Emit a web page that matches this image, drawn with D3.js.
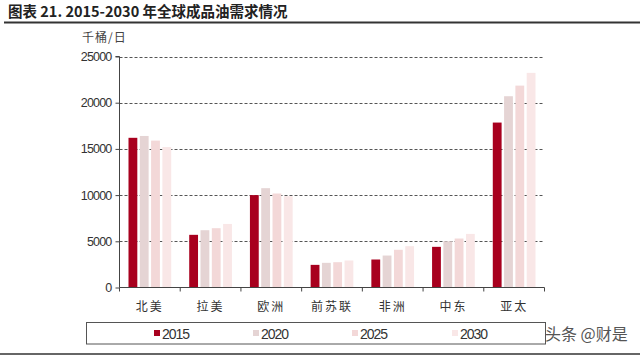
<!DOCTYPE html>
<html><head><meta charset="utf-8">
<script src="https://cdn.jsdelivr.net/npm/d3@7"></script>
<style>body{margin:0;background:#fff}svg{display:block}</style>
</head><body>
<svg id="c" width="640" height="358"></svg>
<script>
const categories = ["北美","拉美","欧洲","前苏联","非洲","中东","亚太"];
const seriesNames = ["2015","2020","2025","2030"];
const v2015 = [16200, 5700, 10000, 2450, 3030, 4400, 17850];
const v2020 = [16400, 6200, 10750, 2670, 3460, 5000, 20700];
const v2025 = [15900, 6420, 10170, 2740, 4080, 5300, 21850];
const v2030 = [15200, 6880, 9880, 2920, 4470, 5800, 23230];
const yTicks = [0, 5000, 10000, 15000, 20000, 25000];
const colors = ["#A8001E", "#E5D4D4", "#F3D8D8", "#F9E7E7"];
const title = "图表 21. 2015-2030 年全球成品油需求情况";
const unit = "千桶/日";
const watermark = "头条 @财是";

(function(){
const series = [v2015, v2020, v2025, v2030];
const svg = d3.select("#c");
const font = "Liberation Sans, Arial, sans-serif";
const cjk = "'Noto Sans CJK SC', sans-serif";

// title
svg.append("text").attr("x", 8).attr("y", 17).attr("font-family", cjk)
  .attr("font-weight", "bold").attr("font-size", 14.5).attr("fill", "#222").text(title);
svg.append("line").attr("x1", 4).attr("x2", 640).attr("y1", 22.5).attr("y2", 22.5)
  .attr("stroke", "#333").attr("stroke-width", 2);
svg.append("line").attr("x1", 0).attr("x2", 640).attr("y1", 354).attr("y2", 354)
  .attr("stroke", "#333").attr("stroke-width", 1.5);

const pl = 119.5, pr = 544.5, pt = 56.5, pb = 287.5;
const x = d3.scaleBand().domain(categories).range([pl, pr]).paddingInner(0).paddingOuter(0);
const x1 = d3.scaleBand().domain(seriesNames).range([9, x.bandwidth() - 9]).paddingInner(0.22).paddingOuter(0);
const y = d3.scaleLinear().domain([0, 25000]).range([pb, pt]);

// gridlines
svg.append("g").selectAll("line").data(yTicks.filter(d => d > 0)).join("line")
  .attr("x1", pl).attr("x2", pr)
  .attr("y1", d => Math.round(y(d)) + 0.5).attr("y2", d => Math.round(y(d)) + 0.5)
  .attr("stroke", "#555").attr("stroke-dasharray", "3,2").attr("stroke-width", 1);

// bars
const g = svg.append("g");
categories.forEach((c, i) => {
  series.forEach((s, k) => {
    g.append("rect").attr("x", x(c) + x1(seriesNames[k])).attr("width", x1.bandwidth())
      .attr("y", y(s[i])).attr("height", pb - y(s[i])).attr("fill", colors[k]);
  });
});

// y axis
const yAxis = d3.axisLeft(y).tickValues(yTicks).tickSize(4).tickFormat(d3.format("d"));
const ya = svg.append("g").attr("transform", `translate(${pl},0)`).call(yAxis);
ya.select(".domain").attr("stroke", "#444").attr("d", `M-4,${pt}H0V${pb}`);
ya.selectAll(".tick line").attr("stroke", "#444").attr("x1", -4).attr("x2", 0);
ya.selectAll("text").attr("font-family", font).attr("font-size", 12.5).attr("fill", "#333").attr("x", -8).attr("letter-spacing", "-0.8");

// x axis
svg.append("line").attr("x1", pl).attr("x2", pr).attr("y1", pb).attr("y2", pb).attr("stroke", "#444");
const bounds = categories.map(c => x(c)).concat([pr]);
svg.append("g").selectAll("line").data(bounds).join("line")
  .attr("x1", d => d).attr("x2", d => d).attr("y1", pb).attr("y2", pb + 4).attr("stroke", "#444");
svg.append("g").selectAll("text").data(categories).join("text")
  .attr("x", d => x(d) + x.bandwidth() / 2).attr("y", 311).attr("text-anchor", "middle")
  .attr("font-family", cjk).attr("font-size", 12).attr("fill", "#333").attr("letter-spacing", "2").text(d => d);

// unit
svg.append("text").attr("x", 82).attr("y", 42).attr("font-family", cjk).attr("font-size", 12)
  .attr("fill", "#444").attr("letter-spacing", "1").text(unit);

// legend
svg.append("rect").attr("x", 86.5).attr("y", 322.5).attr("width", 459).attr("height", 21.5)
  .attr("fill", "none").attr("stroke", "#555").attr("stroke-width", 1);
const legX = [154, 253, 352, 452];
seriesNames.forEach((n, k) => {
  svg.append("rect").attr("x", legX[k]).attr("y", 330).attr("width", 6).attr("height", 6).attr("fill", colors[k]);
  svg.append("text").attr("x", legX[k] + 8).attr("y", 338.5).attr("font-family", font)
    .attr("font-size", 14).attr("fill", "#333").attr("letter-spacing", "-1").text(n);
});

// watermark
svg.append("text").attr("x", 545).attr("y", 340).attr("font-family", cjk).attr("font-size", 16)
  .attr("fill", "#555").text(watermark);
})();
</script>
</body></html>
